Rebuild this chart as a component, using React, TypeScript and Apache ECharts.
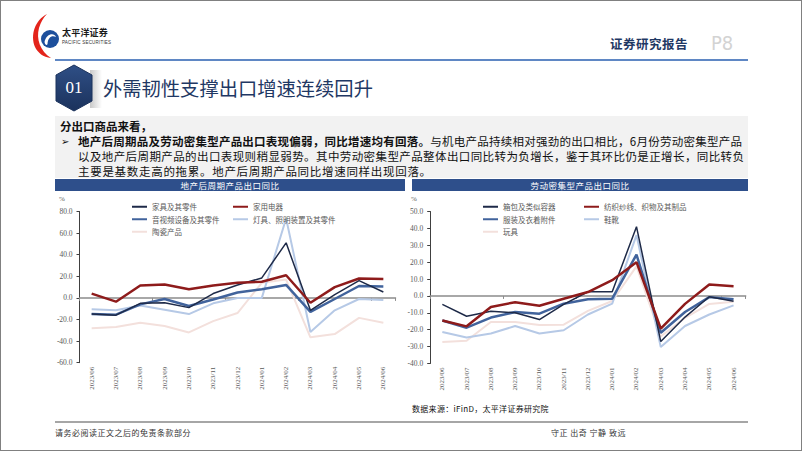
import React, { useEffect, useRef } from "react";
import * as echarts from "echarts";

// ---------- data ----------
const categories = [
  "2023/06", "2023/07", "2023/08", "2023/09", "2023/10", "2023/11", "2023/12",
  "2024/01", "2024/02", "2024/03", "2024/04", "2024/05", "2024/06",
];

// 地产后周期产品出口同比 (%)
const furniture = [-15, -16, -5, -4.5, -9, 4, 12, 18.5, 51, -11.5, 3, 16, 5.5];
const appliances = [4, -3.5, 11.5, 12.5, 8, 11.5, 14, 15, 21, -4.5, 10, 18, 17.5];
const avEquipment = [-15, -15.5, -6, -1, -7.5, -1.5, 5, 8, 12, -13, -1, 11, 10.5];
const lighting = [-10.5, -11.5, -7, -11, -15, -5, 0, 0, 73.5, -31.5, -11.5, -1, -2];
const ceramics = [-28, -27, -23, -26, -32, -21.5, -14, 14, 17, -36.5, -33.5, -18.5, -23];

// 劳动密集型产品出口同比 (%)
const bags = [-5, -12, -9, -10, -14, -5, 2.5, 2.5, 41, -27, -12.5, -0.5, -3.2];
const textiles = [-14.5, -18, -6.5, -3.7, -5.8, -1.7, 2.3, 9.3, 20, -19.3, -4.7, 6.8, 5.8];
const clothing = [-14.5, -18.8, -12.8, -9.5, -10.5, -4.6, -2, -1.6, 24.5, -21.8, -9.5, -0.7, -2];
const footwear = [-21.3, -24.6, -22.2, -17.8, -22.2, -20.3, -11, -4.5, 36, -30.3, -17.8, -11, -5.6];
const toys = [-27.2, -26.5, -15.4, -15.4, -17.2, -17, -8.8, -3, 17.5, -24, -13, -4.7, -3.5];

const leftYTicks = { min: -60, max: 80, interval: 20 };
const rightYTicks = { min: -40, max: 50, interval: 10 };

// ---------- styles ----------
const NAVY = "#1e2a48";
const RED = "#8e1b1b";
const BLUE = "#41639c";
const LIGHTBLUE = "#b6c9e6";
const PINK = "#f3e0dc";
const SERIF = "'Liberation Serif', 'Times New Roman', serif";
const CJK = "'Noto Sans CJK SC', sans-serif";

function buildOption() {
  const yAxisBase = (gridIndex: number, t: { min: number; max: number; interval: number }) => ({
    type: "value",
    gridIndex,
    min: t.min,
    max: t.max,
    interval: t.interval,
    splitLine: { show: false },
    axisLine: { show: true, lineStyle: { color: "#404040", width: 1 } },
    axisTick: { show: true, length: 3, lineStyle: { color: "#404040" } },
    axisLabel: {
      fontSize: 7.5,
      color: "#595959",
      fontFamily: SERIF,
      margin: 7,
      formatter: (v: number) => v.toFixed(1),
    },
  });
  const xLabelAxis = (gridIndex: number) => ({
    type: "category",
    gridIndex,
    data: categories,
    position: "bottom",
    boundaryGap: true,
    axisLine: { show: false, onZero: false },
    axisTick: { show: false },
    axisLabel: {
      rotate: 90,
      fontSize: 7,
      color: "#595959",
      fontFamily: SERIF,
      margin: 4,
      interval: 0,
    },
  });
  const xZeroAxis = (gridIndex: number) => ({
    type: "category",
    gridIndex,
    data: categories,
    position: "bottom",
    boundaryGap: true,
    axisLine: { show: true, onZero: true, lineStyle: { color: "#8c8c8c", width: 1.5 } },
    axisTick: { show: true, length: 3, lineStyle: { color: "#8c8c8c" } },
    axisLabel: { show: false },
  });
  const line = (name: string, data: number[], color: string, width: number, xi: number, yi: number) => ({
    name,
    type: "line",
    data,
    xAxisIndex: xi,
    yAxisIndex: yi,
    symbol: "none",
    color,
    itemStyle: { color },
    lineStyle: { color, width },
  });
  const legendBase = {
    orient: "vertical",
    itemWidth: 15,
    itemHeight: 8,
    itemGap: 5,
    itemStyle: { opacity: 0 },
    textStyle: { fontSize: 7.5, color: "#595959", fontFamily: CJK },
  };
  return {
    animation: false,
    grid: [
      { left: 79.5, top: 211.5, width: 316, height: 151.2, containLabel: false },
      { left: 430.2, top: 211.5, width: 315.5, height: 152, containLabel: false },
    ],
    xAxis: [xLabelAxis(0), xZeroAxis(0), xLabelAxis(1), xZeroAxis(1)],
    yAxis: [yAxisBase(0, leftYTicks), yAxisBase(1, rightYTicks)],
    legend: [
      { ...legendBase, left: 126, top: 198, data: ["家具及其零件", "音视频设备及其零件", "陶瓷产品"] },
      { ...legendBase, left: 227, top: 198, data: ["家用电器", "灯具、照明装置及其零件"] },
      { ...legendBase, left: 477, top: 198, data: ["箱包及类似容器", "服装及衣着附件", "玩具"] },
      { ...legendBase, left: 578, top: 198, data: ["纺织纱线、织物及其制品", "鞋靴"] },
    ],
    graphic: [
      { type: "text", left: 59, top: 195, style: { text: "%", fontSize: 7, fill: "#595959", fontFamily: SERIF } },
      { type: "text", left: 411, top: 195, style: { text: "%", fontSize: 7, fill: "#595959", fontFamily: SERIF } },
    ],
    series: [
      line("陶瓷产品", ceramics, PINK, 2, 0, 0),
      line("灯具、照明装置及其零件", lighting, LIGHTBLUE, 2, 0, 0),
      line("音视频设备及其零件", avEquipment, BLUE, 2.5, 0, 0),
      line("家具及其零件", furniture, NAVY, 1.5, 0, 0),
      line("家用电器", appliances, RED, 2.5, 0, 0),
      line("玩具", toys, PINK, 2, 2, 1),
      line("鞋靴", footwear, LIGHTBLUE, 2, 2, 1),
      line("服装及衣着附件", clothing, BLUE, 2.5, 2, 1),
      line("箱包及类似容器", bags, NAVY, 1.5, 2, 1),
      line("纺织纱线、织物及其制品", textiles, RED, 2.5, 2, 1),
    ],
  };
}

const abs = (s: React.CSSProperties): React.CSSProperties => ({ position: "absolute", whiteSpace: "nowrap", ...s });

export default function App() {
  const ref = useRef<HTMLDivElement>(null);
  useEffect(() => {
    if (!ref.current) return;
    const chart = echarts.init(ref.current, null, { renderer: "svg" });
    chart.setOption(buildOption() as any);
    return () => chart.dispose();
  }, []);

  const para: React.CSSProperties = { fontSize: 11.5, color: "#111", lineHeight: "14px" };

  return (
    <div style={{ position: "fixed", left: 0, top: 0, width: 802, height: 451, background: "#fff", overflow: "hidden", fontFamily: CJK }}>
      {/* logo */}
      <svg style={{ position: "absolute", left: 30, top: 13 }} width={32} height={46} viewBox="0 0 32 46">
        <path d="M17 1 C 5 7, 0 22, 5 34 C 8 40, 13 44, 21 45 C 10 38, 6 26, 9 15 C 11 9, 13 5, 17 1 Z" fill="#e3241b" />
        <circle cx="20" cy="26" r="9" fill="#1d4f9c" />
        <path d="M14.5 29 C 16 21, 24 19, 26 24 C 22 22, 18 24, 17.5 31 C 17 33, 15 32, 14.5 29 Z" fill="#fff" />
      </svg>
      <div style={abs({ left: 62, top: 27, fontSize: 9, fontWeight: 700, color: "#1a1a1a", letterSpacing: 0.2, lineHeight: "12px" })}>太平洋证券</div>
      <div style={abs({ left: 62, top: 40, fontSize: 4.5, color: "#333", letterSpacing: 0.2, lineHeight: "6px", fontFamily: "'Liberation Sans', sans-serif" })}>PACIFIC SECURITIES</div>

      <div style={abs({ left: 610, top: 36, fontSize: 12.5, color: "#1f3864", letterSpacing: 0.5, lineHeight: "16px", fontWeight: 700 })}>证券研究报告</div>
      <div style={abs({ left: 711, top: 31, fontSize: 20, color: "#d3d3d3", lineHeight: "24px", fontFamily: "'Liberation Sans Narrow', 'DejaVu Sans Condensed', sans-serif" })}>P8</div>
      <div style={abs({ left: 55, top: 59, width: 693, height: 2, background: "#5f87c4" })} />

      {/* section badge */}
      <div style={abs({ left: 90, top: 70, width: 12, height: 38, background: "linear-gradient(to right, #c8c8c8, rgba(255,255,255,0))" })} />
      <svg style={{ position: "absolute", left: 54, top: 64 }} width={40} height={48} viewBox="0 0 40 48">
        <defs>
          <linearGradient id="hexg" x1="0" y1="0" x2="0" y2="1">
            <stop offset="0" stopColor="#2f4f86" />
            <stop offset="1" stopColor="#1b325c" />
          </linearGradient>
        </defs>
        <polygon points="20,1 38,11 38,37 20,47 2,37 2,11" fill="url(#hexg)" stroke="#1b325c" strokeWidth={1} strokeLinejoin="round" />
      </svg>
      <div style={abs({ left: 54, top: 77, width: 40, textAlign: "center", fontSize: 17, color: "#fff", lineHeight: "22px", fontFamily: SERIF })}>01</div>
      <div style={abs({ left: 103, top: 75, fontSize: 19.3, color: "#1f3864", lineHeight: "26px" })}>外需韧性支撑出口增速连续回升</div>

      {/* text box */}
      <div style={abs({ left: 55, top: 116, width: 693, height: 62, background: "#f2f2f2" })} />
      <div style={abs({ ...para, left: 60, top: 119, fontWeight: 700 })}>分出口商品来看，</div>
      <div style={abs({ ...para, left: 61, top: 134, fontSize: 10 })}>➢</div>
      <div style={abs({ ...para, left: 78, top: 134, width: 664, textAlign: "justify", textAlignLast: "justify", letterSpacing: 0.1 })}>
        <b>地产后周期品及劳动密集型产品出口表现偏弱，同比增速均有回落。</b>与机电产品持续相对强劲的出口相比，6月份劳动密集型产品
      </div>
      <div style={abs({ ...para, left: 78, top: 149, width: 664, textAlign: "justify", textAlignLast: "justify", letterSpacing: 0.4 })}>
        以及地产后周期产品的出口表现则稍显弱势。其中劳动密集型产品整体出口同比转为负增长，鉴于其环比仍是正增长，同比转负
      </div>
      <div style={abs({ ...para, left: 78, top: 164, letterSpacing: 0.7 })}>主要是基数走高的拖累。地产后周期产品同比增速同样出现回落。</div>

      {/* chart title bars */}
      <div style={abs({ left: 55, top: 179, width: 350, height: 12, background: "#2e4f8b", color: "#fff", fontSize: 8.5, lineHeight: "12px", textAlign: "center", letterSpacing: 0.5 })}>地产后周期产品出口同比</div>
      <div style={abs({ left: 412, top: 179, width: 336, height: 12, background: "#2e4f8b", color: "#fff", fontSize: 8.5, lineHeight: "12px", textAlign: "center", letterSpacing: 0.5 })}>劳动密集型产品出口同比</div>

      {/* chart */}
      <div ref={ref} style={{ position: "absolute", left: 0, top: 0, width: 802, height: 451 }} />

      {/* source & footer */}
      <div style={abs({ left: 412, top: 403, fontSize: 8, color: "#111", lineHeight: "11px", letterSpacing: 0.3 })}>数据来源：iFinD，太平洋证券研究院</div>
      <div style={abs({ left: 55, top: 421, width: 693, height: 1.5, background: "#a6a6a6" })} />
      <div style={abs({ left: 55, top: 427, fontSize: 8, color: "#333", lineHeight: "11px", letterSpacing: 0.5 })}>请务必阅读正文之后的免责条款部分</div>
      <div style={abs({ left: 551, top: 427, fontSize: 8, color: "#333", lineHeight: "11px", letterSpacing: 0.5 })}>守正 出奇 宁静 致远</div>

      <div style={{ position: "absolute", left: 0, top: 0, width: 802, height: 451, boxSizing: "border-box", border: "1px solid #808080", pointerEvents: "none" }} />
    </div>
  );
}
